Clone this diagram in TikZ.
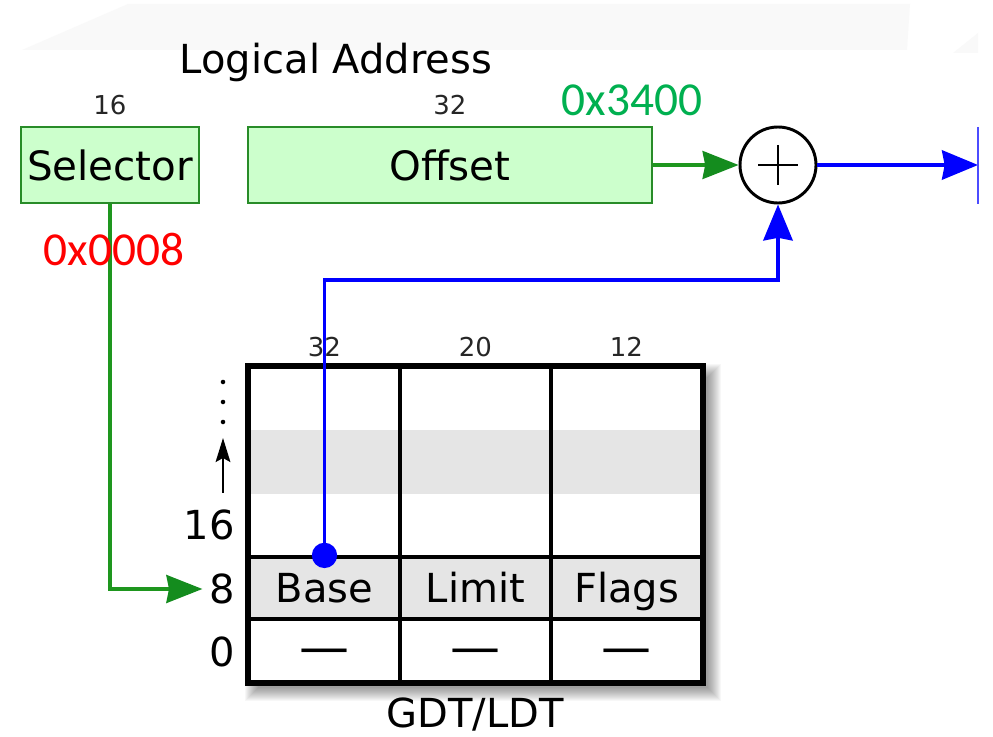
\documentclass[tikz,border=0pt]{standalone}
\usepackage{fontspec}
\setmainfont{DejaVu Sans}
\newfontfamily\hexfont{Carlito}
\usetikzlibrary{arrows.meta,calc}
\definecolor{boxgreen}{RGB}{40,140,40}
\definecolor{boxfill}{RGB}{204,255,204}
\definecolor{linegreen}{RGB}{30,150,30}
\definecolor{headgreen}{RGB}{20,140,30}
\definecolor{hexgreen}{RGB}{0,176,80}
\definecolor{cellgray}{RGB}{229,229,229}
\begin{document}
\begin{tikzpicture}[x=0.75pt,y=-0.75pt,
  bigtxt/.style={font=\fontsize{30pt}{35pt}\selectfont, inner sep=0pt},
  smalltxt/.style={font=\fontsize{19.5pt}{23pt}\selectfont, text=black!85, inner sep=0pt},
  hextxt/.style={font=\hexfont\fontsize{35.5pt}{42pt}\selectfont, inner sep=0pt},
  fieldbox/.style={draw=boxgreen, fill=boxfill, line width=2pt, minimum height=57pt, inner sep=0pt, font=\fontsize{30.3pt}{35pt}\selectfont},
  cellbox/.style={draw=black, line width=2.4pt, minimum width=113.25pt, minimum height=46.5pt, inner sep=0pt, text height=21.9pt, text depth=0pt, font=\fontsize{30pt}{35pt}\selectfont},
  dashtxt/.style={font=\fontsize{37.5pt}{40pt}\selectfont, inner sep=0pt},
  gline/.style={draw=linegreen, line width=2.3pt},
  bline/.style={draw=blue, line width=2.6pt},
  ghead/.style={-{Stealth[length=27pt,width=21pt,inset=2pt,color=headgreen]}},
  bhead/.style={-{Stealth[length=27pt,width=22pt,inset=2pt]}},
]
\useasboundingbox (0,0) rectangle (993,737);
\fill[white] (0,0) rectangle (993,737);
% faint background band
\fill[black!2.5] (22,50) -- (128,4) -- (910,4) -- (907,50) -- cycle;
\fill[black!2.5] (953,53) -- (978,33) -- (978,53) -- cycle;

% top row
\node[bigtxt] (logaddr) at (336,62) {Logical Address};
\node[smalltxt] (n16) at (110,105) {16};
\node[smalltxt] (n32) at (450,105) {32};
\node[hextxt, text=hexgreen] (hexoff) at (632,100) {0x3400};
\node[fieldbox, minimum width=133.5pt] (sel) at (110,165) {Selector};
\node[fieldbox, minimum width=303pt] (off) at (450,165) {Offset};
\node[circle, draw, line width=2.2pt, minimum size=57pt, inner sep=0pt, fill=white] (plus) at (778,165) {};
\draw[line width=2.2pt] ($(plus.center)+(-20,0)$) -- ($(plus.center)+(20,0)$);
\draw[line width=2.2pt] ($(plus.center)+(0,-20)$) -- ($(plus.center)+(0,20)$);

% table shadow (soft)
\foreach \e in {0,...,13}
  \fill[black,opacity=0.03] ({258-\e},{377-\e}) rectangle ({708+\e},{688+\e});
\fill[white] (249,367) rectangle (702,682);
\fill[cellgray] (249,430) rectangle (702,494);

% table cells
\node[cellbox, minimum height=142.5pt] (u1) at (324.5,462) {};
\node[cellbox, minimum height=142.5pt] (u2) at (475.5,462) {};
\node[cellbox, minimum height=142.5pt] (u3) at (626.5,462) {};
\node[cellbox, fill=cellgray] (base) at (324.5,588) {Base};
\node[cellbox, fill=cellgray] (limit) at (475.5,588) {Limit};
\node[cellbox, fill=cellgray] (flags) at (626.5,588) {Flags};
\node[cellbox, minimum height=47.25pt] (d1) at (324.5,650.5) {};
\node[cellbox, minimum height=47.25pt] (d2) at (475.5,650.5) {};
\node[cellbox, minimum height=47.25pt] (d3) at (626.5,650.5) {};
\node[dashtxt] (t1) at (324.5,657) {—};
\node[dashtxt] (t2) at (475.5,657) {—};
\node[dashtxt] (t3) at (626.5,657) {—};
\draw[line width=3pt] (u1.north west) rectangle (d3.south east);

% column headers
\node[smalltxt] (h32) at (324.5,347) {32};
\node[smalltxt] (h20) at (475.5,347) {20};
\node[smalltxt] (h12) at (626.5,347) {12};

% side labels
\node[bigtxt, anchor=east] (s16) at (235,525) {16};
\node[bigtxt, anchor=east] (s8) at (235,589) {8};
\node[bigtxt, anchor=east] (s0) at (235,652) {0};
\foreach \yy in {382,402,422} \fill (223,\yy) circle (1.7pt);
\coordinate (ua) at (223,493);
\coordinate (ub) at (223,438);
\draw[line width=1.7pt, -{Stealth[length=18pt,width=11pt,inset=3pt]}] (ua) -- (ub);

\node[bigtxt] (gdt) at (475,715) {GDT/LDT};

% selector path
\draw[gline, ghead] (sel.south) |- ([xshift=-5pt]s8.west);
\node[hextxt, text=red] (hexsel) at (114,250) {0x0008};

% offset to adder
\draw[gline, ghead] (off.east) -- (plus.west);

% base to adder
\node[circle, fill=blue, minimum size=19pt, inner sep=0pt] (dot) at (base.north) {};
\coordinate (bend) at (778,280);
\draw[bline, bhead] (dot.center) |- (bend) -- (plus.south);

% output
\coordinate (outend) at (978,165);
\coordinate (outtop) at (978,127);
\coordinate (outbot) at (978,204);
\draw[bline, bhead] (plus.east) -- (outend);
\draw[draw=blue!70, line width=0.9pt] (outtop) -- (outbot);
\end{tikzpicture}
\end{document}
